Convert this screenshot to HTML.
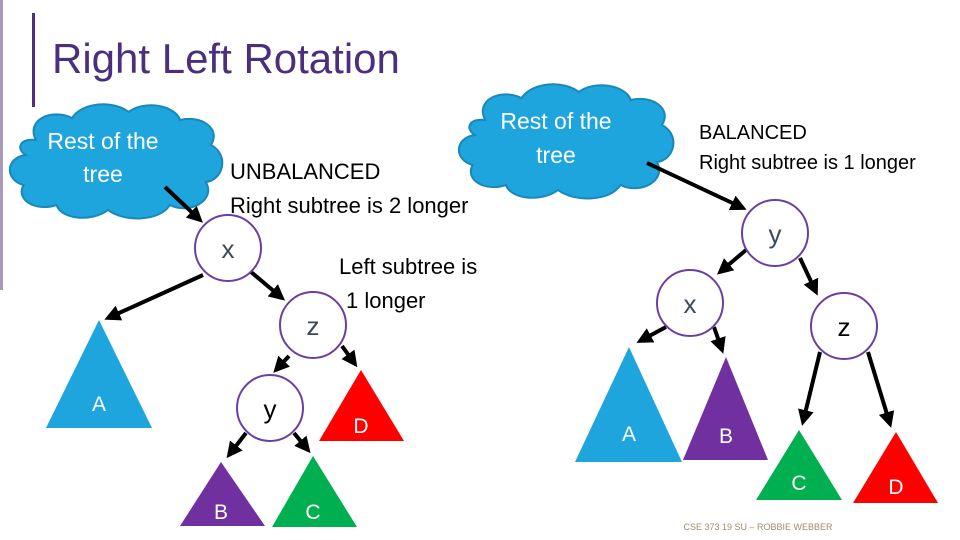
<!DOCTYPE html>
<html><head><meta charset="utf-8"><style>
body{margin:0;background:#fff}
svg{display:block}
text{font-family:"Liberation Sans",sans-serif}
</style></head><body>
<svg width="960" height="540" viewBox="0 0 960 540" xmlns="http://www.w3.org/2000/svg">
<defs>
<marker id="ah" markerWidth="4" markerHeight="4" refX="3" refY="2" orient="auto" markerUnits="strokeWidth">
<path d="M0,0 L4,2 L0,4 z" fill="#000"/></marker>
<g id="cloud">
<path d="M30,40 C20,20 45,8 65,18 C75,2 105,0 120,12 C135,0 165,5 170,20 C190,15 210,28 200,45 C218,55 212,80 195,82 C205,100 180,115 160,105 C150,122 115,122 100,110 C85,122 55,120 50,105 C30,112 10,100 18,85 C0,80 0,58 20,55 C10,48 15,38 30,40 Z" fill="#1fa5de" stroke="#1a88b8" stroke-width="2"/>
</g>
</defs>
<rect x="0" y="0" width="3" height="290" fill="#6b5a8a" opacity="0.6"/>
<rect x="32" y="13" width="3" height="94" fill="#4f2f83"/>
<text x="52" y="73" font-size="42" fill="#4a2f7f">Right Left Rotation</text>

<use href="#cloud" transform="translate(5,100) scale(1.03,1.0)"/>
<text x="103" y="149" font-size="23" fill="#fff" text-anchor="middle">Rest of the</text>
<text x="103" y="182" font-size="23" fill="#fff" text-anchor="middle">tree</text>
<use href="#cloud" transform="translate(454,80) scale(1.04,1.0)"/>
<text x="556" y="129" font-size="23" fill="#fff" text-anchor="middle">Rest of the</text>
<text x="556" y="163" font-size="23" fill="#fff" text-anchor="middle">tree</text>

<text x="230" y="179" font-size="22" fill="#000">UNBALANCED</text>
<text x="230" y="213" font-size="22" fill="#000">Right subtree is 2 longer</text>
<text x="339" y="274" font-size="22" fill="#000">Left subtree is</text>
<text x="346" y="308" font-size="22" fill="#000">1 longer</text>
<text x="699" y="139" font-size="20" fill="#000">BALANCED</text>
<text x="699" y="169" font-size="20" fill="#000">Right subtree is 1 longer</text>

<g stroke="#000" stroke-width="4" marker-end="url(#ah)" fill="none">
<line x1="165" y1="187" x2="200" y2="220"/>
<line x1="203" y1="275" x2="108" y2="318"/>
<line x1="251" y1="272" x2="282" y2="298"/>
<line x1="289" y1="356" x2="276" y2="370"/>
<line x1="342" y1="346" x2="355" y2="364"/>
<line x1="246" y1="433" x2="229" y2="455"/>
<line x1="294" y1="433" x2="308" y2="450"/>
<line x1="647" y1="163" x2="743" y2="208"/>
<line x1="746" y1="250" x2="720" y2="272"/>
<line x1="800" y1="258" x2="816" y2="292"/>
<line x1="666" y1="327" x2="640" y2="341"/>
<line x1="714" y1="327" x2="722" y2="350"/>
<line x1="820" y1="352" x2="803" y2="422"/>
<line x1="868" y1="352" x2="890" y2="424"/>
</g>

<g fill="#fff" stroke="#6b3fa0" stroke-width="2">
<circle cx="228" cy="248" r="33"/><circle cx="313" cy="325" r="33"/><circle cx="270" cy="408" r="33"/>
<circle cx="775" cy="233" r="33"/><circle cx="690" cy="303" r="33"/><circle cx="844" cy="326" r="33"/>
</g>
<g font-size="26" text-anchor="middle" fill="#3a4a5a">
<text x="228" y="258">x</text><text x="313" y="335">z</text><text x="270" y="418" fill="#000">y</text>
<text x="775" y="243">y</text><text x="690" y="313">x</text><text x="844" y="336" fill="#000">z</text>
</g>

<polygon points="99,320 46,428 152,428" fill="#1fa5de"/>
<polygon points="361,370 319,441 404,441" fill="#f00"/>
<polygon points="221,462 180,526 265,526" fill="#7030a0"/>
<polygon points="313,456 272,527 357,527" fill="#00b050"/>
<polygon points="629,347 575,462 682,462" fill="#1fa5de"/>
<polygon points="726,357 683,460 768,460" fill="#7030a0"/>
<polygon points="799,430 756,500 842,500" fill="#00b050"/>
<polygon points="896,432 853,503 938,503" fill="#f00"/>
<g font-size="21" fill="#fff" text-anchor="middle">
<text x="99" y="411">A</text><text x="361" y="433">D</text><text x="221" y="519">B</text><text x="313" y="519">C</text>
<text x="629" y="441">A</text><text x="726" y="443">B</text><text x="799" y="490">C</text><text x="896" y="494">D</text>
</g>
<text x="758" y="530" font-size="9" fill="#a08c6c" text-anchor="middle">CSE 373 19 SU – ROBBIE WEBBER</text>
</svg>
</body></html>
